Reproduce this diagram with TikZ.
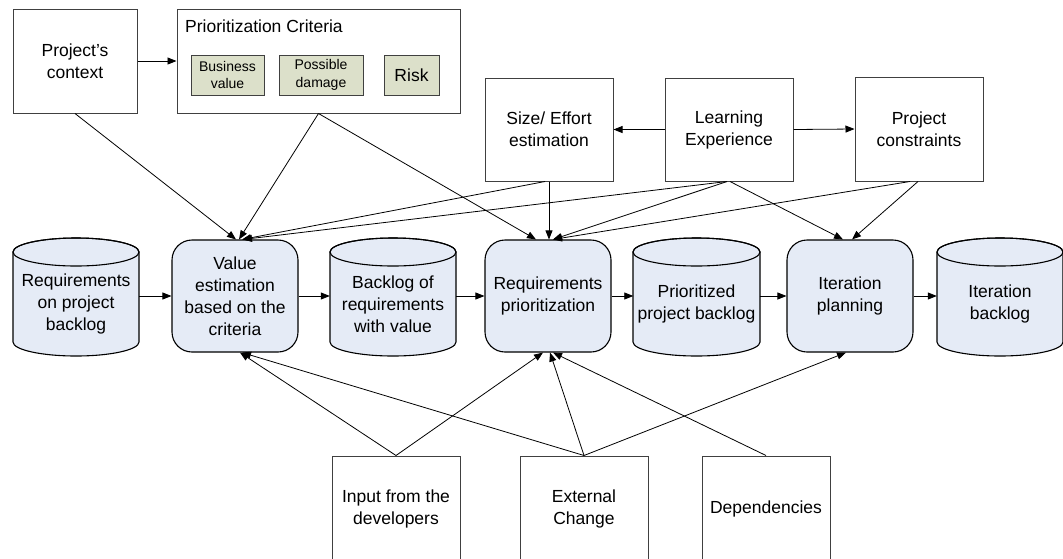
\documentclass[tikz,border=0pt]{standalone}
\usepackage{fontspec}
\setmainfont{Liberation Sans}
\usetikzlibrary{arrows.meta,calc}
\definecolor{nodeblue}{HTML}{E5EBF6}
\definecolor{critgreen}{HTML}{DCE0CA}
\definecolor{boxgray}{HTML}{404040}
\tikzset{
  txt/.style={font=\fontsize{17.5}{22}\selectfont, align=center},
  smalltxt/.style={font=\fontsize{14}{17.5}\selectfont, align=center},
  plainbox/.style={draw=boxgray, line width=1pt, fill=white, inner sep=0pt, txt},
  critbox/.style={draw=boxgray, line width=1pt, fill=critgreen, inner sep=0pt, minimum height=40pt},
  procbox/.style={draw=black, line width=1.1pt, fill=nodeblue, rounded corners=20pt, inner sep=0pt, minimum width=126pt, minimum height=112pt, txt},
  conn/.style={draw=black, line width=0.8pt, -{Triangle[length=9pt,width=7pt]}},
  cylfill/.style={fill=nodeblue, draw=black, line width=1.1pt},
  cylline/.style={draw=black, line width=1.1pt},
  ghost/.style={inner sep=0pt, minimum width=126pt, minimum height=118pt},
}
\newcommand{\drawcyl}[4]{%
  \pgfmathsetmacro\cw{(#2-#1)/2}%
  \pgfmathsetmacro\cx{(#1+#2)/2}%
  \path[cylfill] (#1,252) -- (#1,342) arc[start angle=180,end angle=0,x radius=\cw,y radius=14] -- (#2,252) arc[start angle=0,end angle=-180,x radius=\cw,y radius=14] -- cycle;
  \draw[cylline] (\cx,252) ellipse[x radius=\cw, y radius=14];
  \node[ghost] (#3) at (\cx,296) {};
  \node[txt] (#3t) at (\cx,304) {#4};
}
\begin{document}
\begin{tikzpicture}[x=1pt,y=-1pt]
\useasboundingbox (0,0) rectangle (1063,558);
\clip (0,0) rectangle (1063,558);
\fill[white] (0,0) rectangle (1063,558);

% top row
\node[plainbox, minimum width=124pt, minimum height=104pt] (ctx) at (75,61) {Project’s\\context};
\node[plainbox, minimum width=283pt, minimum height=104pt] (crit) at (318.5,61) {};
\node[txt, anchor=base west, inner sep=0pt] (crittitle) at (185,32) {Prioritization Criteria};
\node[critbox, smalltxt, minimum width=73pt] (bv) at (227.5,75) {Business\\value};
\node[critbox, smalltxt, minimum width=84pt] (pd) at (321,75) {Possible\\damage};
\node[critbox, txt, minimum width=55pt] (risk) at (411.5,75) {Risk};

\node[plainbox, minimum width=128pt, minimum height=103pt] (size) at (549,129.5) {Size/ Effort\\estimation};
\node[plainbox, minimum width=128pt, minimum height=103pt] (learn) at (729,129.5) {Learning\\Experience};
\node[plainbox, minimum width=128pt, minimum height=104pt] (cons) at (919,129) {Project\\constraints};

% middle row
\drawcyl{13}{139}{rpb}{Requirements\\on project\\backlog}
\node[procbox] (val) at (235,296) {Value\\estimation\\based on the\\criteria};
\drawcyl{330}{456}{brv}{Backlog of\\requirements\\with value}
\node[procbox] (req) at (548,296) {Requirements\\prioritization};
\drawcyl{633}{760}{ppb}{Prioritized\\project backlog}
\node[procbox] (iter) at (850,296) {Iteration\\planning};
\drawcyl{937}{1063}{itb}{Iteration\\backlog}

% bottom row
\node[plainbox, minimum width=128pt, minimum height=106pt] (inp) at (396,509) {Input from the\\developers};
\node[plainbox, minimum width=128pt, minimum height=106pt] (ext) at (584,509) {External\\Change};
\node[plainbox, minimum width=128pt, minimum height=106pt] (dep) at (766,509) {Dependencies};

% top connectors
\draw[conn] (ctx.east) -- (crit.west);
\draw[conn] (learn.west) -- (size.east);
\draw[conn] (learn.east) -- (cons.west);

\draw[conn] (ctx.south) -- ($(val.north)+(1,0)$);
\draw[conn] (crit.south) -- ($(val.north)+(4,0)$);
\draw[conn] (crit.south) -- ($(req.north)+(-12,0)$);
\draw[conn] ($(size.south)+(-4,0)$) -- ($(val.north)+(7,0)$);
\draw[conn] (size.south) -- (size.south |- req.north);
\draw[conn] ($(learn.south)+(-2,0)$) -- ($(val.north)+(8,0)$);
\draw[conn] ($(learn.south)+(-2,0)$) -- ($(req.north)+(5,0)$);
\draw[conn] ($(learn.south)+(1,0)$) -- ($(iter.north)+(-7,0)$);
\draw[conn] ($(cons.south)+(-9,0)$) -- ($(req.north)+(5,0)$);
\draw[conn] ($(cons.south)+(-1,0)$) -- ($(iter.north)+(2,0)$);

% middle connectors
\draw[conn] (rpb.east) -- (val.west);
\draw[conn] (val.east) -- (brv.west);
\draw[conn] (brv.east) -- (req.west);
\draw[conn] (req.east) -- (ppb.west);
\draw[conn] (ppb.east) -- (iter.west);
\draw[conn] (iter.east) -- (itb.west);

% bottom connectors
\draw[conn] (inp.north) -- ($(val.south)+(5,0)$);
\draw[conn] (inp.north) -- ($(req.south)+(-5,0)$);
\draw[conn] (ext.north) -- ($(val.south)+(7,0)$);
\draw[conn] (ext.north) -- ($(req.south)+(2,0)$);
\draw[conn] (ext.north) -- ($(iter.south)+(-4,0)$);
\draw[conn] (dep.north) -- ($(req.south)+(5,0)$);
\end{tikzpicture}
\end{document}
